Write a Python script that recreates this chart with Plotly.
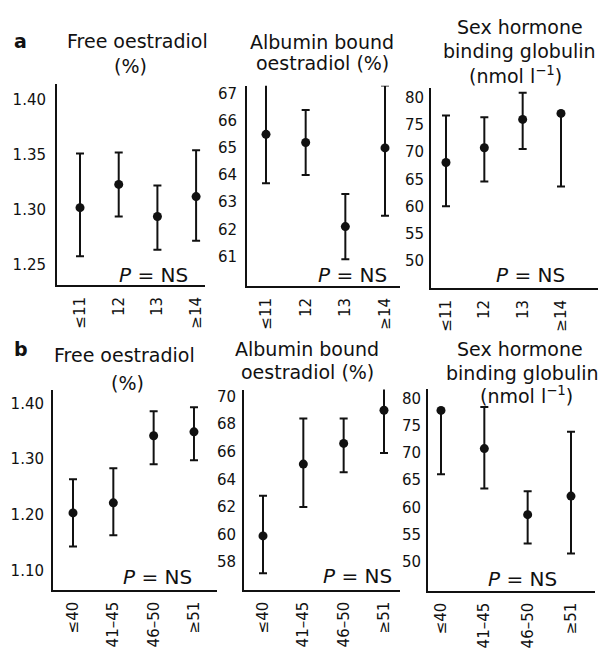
import plotly.graph_objects as go

W, H = 605, 648

cats_a = ["≤11", "12", "13", "≥14"]
cats_b = ["≤40", "41–45", "46–50", "≥51"]

a_free_mean = [1.302, 1.323, 1.294, 1.312]
a_free_hi = [1.351, 1.352, 1.322, 1.354]
a_free_lo = [1.258, 1.294, 1.264, 1.272]

a_alb_mean = [65.5, 65.2, 62.1, 65.0]
a_alb_hi = [67.4, 66.4, 63.3, 67.3]
a_alb_lo = [63.7, 64.0, 60.9, 62.5]

a_shbg_mean = [68.1, 70.8, 76.0, 77.1]
a_shbg_hi = [76.7, 76.4, 80.9, 77.1]
a_shbg_lo = [60.1, 64.6, 70.6, 63.7]

b_free_mean = [1.204, 1.222, 1.342, 1.349]
b_free_hi = [1.264, 1.284, 1.386, 1.393]
b_free_lo = [1.144, 1.164, 1.291, 1.298]

b_alb_mean = [59.9, 65.1, 66.6, 69.0]
b_alb_hi = [62.8, 68.4, 68.4, 72.3]
b_alb_lo = [57.2, 62.0, 64.5, 65.9]

b_shbg_mean = [77.8, 70.8, 58.7, 62.1]
b_shbg_hi = [77.8, 78.4, 63.0, 73.9]
b_shbg_lo = [66.1, 63.5, 53.4, 51.6]

ticks_free_a = [1.25, 1.30, 1.35, 1.40]
ticks_alb_a = [61, 62, 63, 64, 65, 66, 67]
ticks_shbg = [50, 55, 60, 65, 70, 75, 80]
ticks_free_b = [1.10, 1.20, 1.30, 1.40]
ticks_alb_b = [58, 60, 62, 64, 66, 68, 70]

panels = [
    dict(cats=cats_a, m=a_free_mean, hi=a_free_hi, lo=a_free_lo, dx=(57, 205), dy=(83, 287),
         xr=[-0.595, 3.23], yr=[1.232, 1.414], tv=ticks_free_a, fmt=".2f", sto=6),
    dict(cats=cats_a, m=a_alb_mean, hi=a_alb_hi, lo=a_alb_lo, dx=(247, 400), dy=(85, 288),
         xr=[-0.479, 3.378], yr=[59.91, 67.29], tv=ticks_alb_a, fmt="d", sto=5),
    dict(cats=cats_a, m=a_shbg_mean, hi=a_shbg_hi, lo=a_shbg_lo, dx=(431, 598), dy=(87, 290),
         xr=[-0.391, 3.965], yr=[45.1, 81.8], tv=ticks_shbg, fmt="d", sto=2),
    dict(cats=cats_b, m=b_free_mean, hi=b_free_hi, lo=b_free_lo, dx=(53, 217), dy=(393, 596),
         xr=[-0.496, 3.571], yr=[1.0665, 1.4247], tv=ticks_free_b, fmt=".2f", sto=4),
    dict(cats=cats_b, m=b_alb_mean, hi=b_alb_hi, lo=b_alb_lo, dx=(244, 400), dy=(393, 596),
         xr=[-0.471, 3.397], yr=[56.0, 70.5], tv=ticks_alb_b, fmt="d", sto=3),
    dict(cats=cats_b, m=b_shbg_mean, hi=b_shbg_hi, lo=b_shbg_lo, dx=(428, 595), dy=(392, 597),
         xr=[-0.3, 3.554], yr=[44.76, 81.8], tv=ticks_shbg, fmt="d", sto=2),
]

FONT = "DejaVu Sans"
INK = "#111111"

fig = go.Figure()
layout = {}
for i, p in enumerate(panels):
    n = "" if i == 0 else str(i + 1)
    xs = list(range(len(p["cats"])))
    fig.add_trace(go.Scatter(
        x=xs, y=p["m"], mode="markers",
        marker=dict(size=9, color=INK),
        error_y=dict(type="data", symmetric=False,
                     array=[h - m for h, m in zip(p["hi"], p["m"])],
                     arrayminus=[m - l for m, l in zip(p["m"], p["lo"])],
                     color=INK, thickness=2, width=4),
        xaxis="x" + n, yaxis="y" + n, cliponaxis=False, showlegend=False,
    ))
    layout["xaxis" + n] = dict(
        domain=[p["dx"][0] / W, p["dx"][1] / W], range=p["xr"], anchor="y" + n,
        tickvals=xs, ticktext=p["cats"], tickangle=-90, ticks="",
        showline=True, linecolor=INK, linewidth=2, showgrid=False, zeroline=False,
        tickfont=dict(family=FONT, size=15, color=INK), ticklabelstandoff=4,
    )
    layout["yaxis" + n] = dict(
        domain=[1 - p["dy"][1] / H, 1 - p["dy"][0] / H], range=p["yr"], anchor="x" + n,
        tickvals=p["tv"], tickformat=p["fmt"], ticks="",
        showline=True, linecolor=INK, linewidth=2, showgrid=False, zeroline=False,
        tickfont=dict(family=FONT, size=15, color=INK), ticklabelstandoff=p["sto"],
    )

titles = [
    ("Free oestradiol", 137, 40), ("(%)", 130, 65),
    ("Albumin bound", 322, 41), ("oestradiol (%)", 322, 62),
    ("Sex hormone", 520, 25), ("binding globulin", 519, 50), ("(nmol l<sup>−1</sup>)", 515, 74),
    ("Free oestradiol", 124, 358), ("(%)", 127, 386),
    ("Albumin bound", 307, 352), ("oestradiol (%)", 308, 375),
    ("Sex hormone", 520, 352), ("binding globulin", 522, 376), ("(nmol l<sup>−1</sup>)", 526, 399),
]
pns = [(153, 277), (352, 277), (530, 277), (157, 583), (357, 582), (522, 585)]

ann = []
for t, x, y in titles:
    ann.append(dict(text=t, x=x / W, y=1 - y / H, xref="paper", yref="paper",
                    xanchor="center", yanchor="middle", showarrow=False,
                    font=dict(family=FONT, size=19, color=INK)))
for x, y in pns:
    ann.append(dict(text="<i>P</i> = NS", x=x / W, y=1 - y / H, xref="paper", yref="paper",
                    xanchor="center", yanchor="middle", showarrow=False,
                    font=dict(family=FONT, size=20, color=INK)))
for t, x, y in [("a", 20, 40), ("b", 21, 352)]:
    ann.append(dict(text="<b>" + t + "</b>", x=x / W, y=1 - y / H, xref="paper", yref="paper",
                    xanchor="center", yanchor="middle", showarrow=False,
                    font=dict(family=FONT, size=19, color=INK)))

fig.update_layout(
    width=W, height=H, margin=dict(l=0, r=0, t=0, b=0),
    paper_bgcolor="white", plot_bgcolor="white",
    annotations=ann, **layout,
)
fig.write_html("out.html")
